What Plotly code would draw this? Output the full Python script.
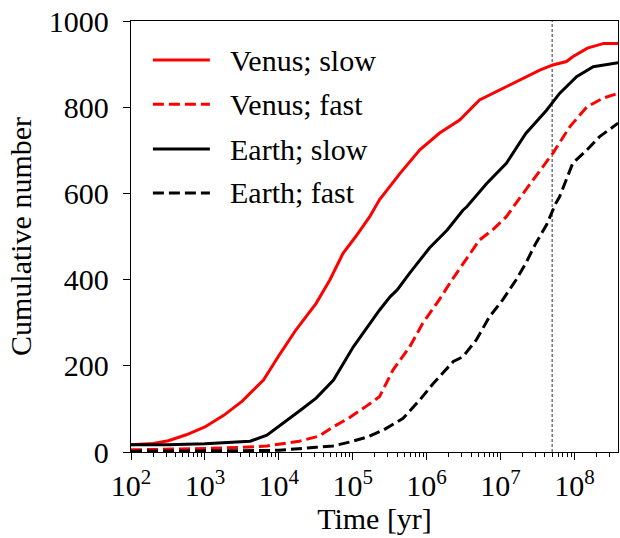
import plotly.graph_objects as go

# ---- data ----
venus_slow_t = [1e2, 2e2, 3.2e2, 5.6e2, 1e3, 1.8e3, 3.2e3, 6.2e3, 1.05e4, 1.7e4, 3.2e4, 4.9e4,
                7.4e4, 1.1e5, 1.7e5, 2.3e5, 4.4e5, 8.1e5, 1.5e6, 2.8e6, 5.2e6, 9.8e6, 1.8e7,
                3.4e7, 5.1e7, 7.8e7, 9.5e7, 1.5e8, 2.5e8, 3.9e8]
venus_slow_n = [17, 20, 26, 40, 58, 85, 118, 167, 229, 283, 345, 399, 461, 500, 546, 585, 647,
                701, 740, 770, 817, 840, 863, 886, 898, 906, 917, 937, 948, 948]

venus_fast_t = [1e2, 3.2e2, 1e3, 3.2e3, 6.9e3, 1.9e4, 3.5e4, 5.4e4, 9.1e4, 1.55e5, 2.3e5, 3.5e5,
                5.9e5, 8.9e5, 1.48e6, 2.2e6, 3.4e6, 5.2e6, 7.9e6, 1.2e7, 1.66e7, 2.75e7, 5.1e7,
                8.7e7, 1.48e8, 2.45e8, 3.9e8]
venus_fast_n = [5, 6, 8, 11, 14, 25, 37, 58, 80, 107, 128, 190, 244, 299, 353, 399, 445, 492,
                516, 546, 580, 631, 693, 755, 801, 821, 832]

earth_slow_t = [1e2, 3.2e2, 1e3, 2e3, 4.1e3, 6.9e3, 1.02e4, 1.9e4, 3.2e4, 5.5e4, 1.02e5, 1.7e5,
                2.3e5, 3.2e5, 4e5, 5.9e5, 1.1e6, 1.9e6, 3.1e6, 3.5e6, 6.5e6, 1.2e7, 2.2e7,
                4.2e7, 6.3e7, 1.07e8, 1.8e8, 3.9e8]
earth_slow_n = [17, 17, 19, 22, 25, 39, 60, 95, 125, 167, 244, 299, 329, 360, 376, 415, 474,
                515, 561, 569, 623, 670, 739, 793, 832, 871, 894, 903]

earth_fast_t = [1e2, 1e3, 3.2e3, 1e4, 1.9e4, 3.2e4, 5.4e4, 9.1e4, 1.58e5, 2.6e5, 4.8e5, 8.1e5,
                1.23e6, 2.3e6, 3.1e6, 4.7e6, 7.1e6, 1.07e7, 1.62e7, 2.2e7, 3e7, 4.2e7, 5.6e7,
                6.3e7, 9.5e7, 1.48e8, 2.2e8, 3.9e8]
earth_fast_n = [2, 2, 3, 4, 7, 11, 14, 23, 35, 51, 78, 121, 159, 210, 221, 260, 314, 353, 399,
                438, 484, 527, 577, 592, 670, 701, 732, 763]

marker_time = 5e7

x_tickvals = [1e2, 1e3, 1e4, 1e5, 1e6, 1e7, 1e8]
x_ticktext = ["10<sup>2</sup>", "10<sup>3</sup>", "10<sup>4</sup>", "10<sup>5</sup>",
              "10<sup>6</sup>", "10<sup>7</sup>", "10<sup>8</sup>"]
y_tickvals = [0, 200, 400, 600, 800, 1000]

series = [
    ("Venus; slow", venus_slow_t, venus_slow_n, "#ff0000", "solid"),
    ("Venus; fast", venus_fast_t, venus_fast_n, "#ff0000", "11px,5px"),
    ("Earth; slow", earth_slow_t, earth_slow_n, "#000000", "solid"),
    ("Earth; fast", earth_fast_t, earth_fast_n, "#000000", "11px,5px"),
]

FONT = "Times New Roman, Liberation Serif, DejaVu Serif, serif"
FS = 30

fig = go.Figure()

fig.add_trace(go.Scatter(x=[marker_time, marker_time], y=[0, 1000], mode="lines",
                         line=dict(color="#333333", width=1, dash="3px,2px"),
                         showlegend=False, hoverinfo="skip"))

for name, t, n, color, dash in series:
    fig.add_trace(go.Scatter(x=t, y=n, mode="lines", name=name,
                             line=dict(color=color, width=3, dash=dash),
                             showlegend=False))

# manual legend
leg_y = [0.9095, 0.807, 0.703, 0.601]
shapes = []
annotations = []
for (name, t, n, color, dash), yy in zip(series, leg_y):
    shapes.append(dict(type="line", xref="paper", yref="paper", x0=0.045, x1=0.162,
                       y0=yy, y1=yy, line=dict(color=color, width=3, dash=dash)))
    annotations.append(dict(xref="paper", yref="paper", x=0.200, y=yy, text=name,
                            showarrow=False, xanchor="left", yanchor="middle",
                            font=dict(family=FONT, size=FS, color="black")))

fig.update_layout(
    width=620, height=538,
    margin=dict(l=131, r=2, t=21, b=86),
    paper_bgcolor="white", plot_bgcolor="white",
    font=dict(family=FONT, size=FS, color="black"),
    shapes=shapes, annotations=annotations,
    showlegend=False,
)

fig.update_xaxes(
    type="log", range=[2, 8.59],
    tickmode="array", tickvals=x_tickvals, ticktext=x_ticktext,
    ticks="outside", ticklen=7, tickwidth=1.3, tickcolor="black",
    minor=dict(ticks="outside", ticklen=4, tickwidth=1, tickcolor="black", dtick="D1", showgrid=False),
    showline=True, linecolor="black", linewidth=1.3, mirror=True,
    showgrid=False, zeroline=False,
    title=dict(text="Time [yr]", font=dict(family=FONT, size=FS), standoff=6),
    tickfont=dict(family=FONT, size=FS),
)
fig.update_yaxes(
    range=[0, 1000], tickmode="array", tickvals=y_tickvals,
    ticks="outside", ticklen=7, tickwidth=1.3, tickcolor="black",
    showline=True, linecolor="black", linewidth=1.3, mirror=True,
    showgrid=False, zeroline=False,
    ticklabelstandoff=8,
    title=dict(text="Cumulative number", font=dict(family=FONT, size=FS), standoff=8),
    tickfont=dict(family=FONT, size=FS),
)

fig.write_html("out.html")
